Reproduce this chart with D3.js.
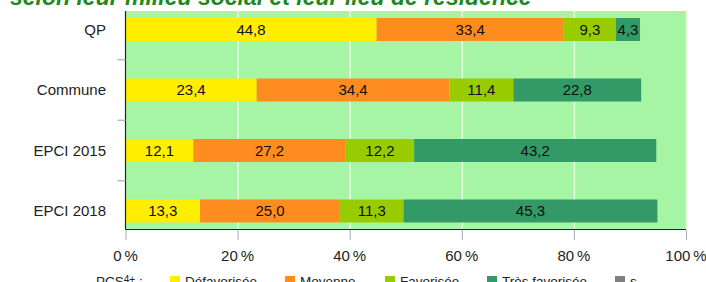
<!DOCTYPE html>
<html><head><meta charset="utf-8">
<script src="https://cdn.jsdelivr.net/npm/d3@7"></script>
<style>
body{margin:0;background:#fff;}
text{font-family:"Liberation Sans",Arial,sans-serif;}
</style></head>
<body>
<svg id="c" width="706" height="282"></svg>
<script>
const categories = ["QP", "Commune", "EPCI 2015", "EPCI 2018"];
const seriesNames = ["Défavorisée", "Moyenne", "Favorisée", "Très favorisée", "s"];
const defavorisee = [44.8, 23.4, 12.1, 13.3];
const moyenne = [33.4, 34.4, 27.2, 25.0];
const favorisee = [9.3, 11.4, 12.2, 11.3];
const tresFavorisee = [4.3, 22.8, 43.2, 45.3];
const secret = [0, 0, 0, 0];
const xTicks = [0, 20, 40, 60, 80, 100];
const colors = ["#ffee00", "#ff8c1e", "#99cc00", "#339966", "#808080"];
const title = "selon leur milieu social et leur lieu de résidence";

const series = [defavorisee, moyenne, favorisee, tresFavorisee, secret];
const svg = d3.select("#c");
const x = d3.scaleLinear().domain([0, 100]).range([125.5, 686]);
const y = d3.scaleBand().domain(categories).range([-0.75, 241.25]);
const barH = 23;
const plotTop = 11, plotBottom = 229;

// title (cut off at top)
svg.append("text").attr("x", 10).attr("y", 5)
  .attr("font-size", 23).attr("font-weight", "bold").attr("font-style", "italic")
  .attr("fill", "#1e8a1e").text(title);

// background
svg.append("rect").attr("x", x(0)).attr("y", plotTop)
  .attr("width", x(100) - x(0)).attr("height", plotBottom - plotTop)
  .attr("fill", "#a6f5a4");

// grid lines
svg.append("g").selectAll("line").data(xTicks.slice(1)).join("line")
  .attr("x1", d => x(d) + 0.5).attr("x2", d => x(d) + 0.5)
  .attr("y1", plotTop).attr("y2", plotBottom)
  .attr("stroke", "#e4fbe3").attr("stroke-width", 1.5);

// stacked bars
const stacked = categories.map((c, i) => {
  let acc = 0;
  return series.map((s, j) => {
    const v = s[i];
    const seg = {cat: c, v, x0: acc, x1: acc + v, j};
    acc += v;
    return seg;
  });
}).flat().filter(d => d.v > 0);

const g = svg.append("g");
g.selectAll("rect").data(stacked).join("rect")
  .attr("x", d => x(d.x0)).attr("width", d => x(d.x1) - x(d.x0))
  .attr("y", d => y(d.cat) + y.bandwidth() / 2 - barH / 2).attr("height", barH)
  .attr("fill", d => colors[d.j]);

g.selectAll("text").data(stacked).join("text")
  .attr("x", d => (x(d.x0) + x(d.x1)) / 2)
  .attr("y", d => y(d.cat) + y.bandwidth() / 2)
  .attr("dy", "0.36em").attr("text-anchor", "middle")
  .attr("font-size", 15).attr("fill", "#111")
  .text(d => d3.format(".1f")(d.v).replace(".", ","));

// axes lines
svg.append("line").attr("x1", x(0)).attr("x2", x(0)).attr("y1", plotTop).attr("y2", plotBottom + 0.5)
  .attr("stroke", "#222").attr("stroke-width", 1.2);
svg.append("line").attr("x1", x(0)).attr("x2", x(100)).attr("y1", plotBottom + 0.5).attr("y2", plotBottom + 0.5)
  .attr("stroke", "#222").attr("stroke-width", 1.2);

// x ticks
svg.append("g").selectAll("line").data(xTicks).join("line")
  .attr("x1", d => x(d) + 0.5).attr("x2", d => x(d) + 0.5)
  .attr("y1", plotBottom + 1).attr("y2", plotBottom + 11)
  .attr("stroke", "#aaa").attr("stroke-width", 1);
svg.append("g").selectAll("text").data(xTicks).join("text")
  .attr("x", d => x(d)).attr("y", 261).attr("text-anchor", "middle")
  .attr("font-size", 15).attr("fill", "#222")
  .text(d => d + "\u202F%");

// y category ticks (between bands)
const bounds = categories.slice(1).map(c => y(c));
svg.append("g").selectAll("line").data(bounds).join("line")
  .attr("x1", x(0) - 8).attr("x2", x(0)).attr("y1", d => d).attr("y2", d => d)
  .attr("stroke", "#aaa").attr("stroke-width", 1.2);
svg.append("g").selectAll("text").data(categories).join("text")
  .attr("x", 106).attr("y", d => y(d) + y.bandwidth() / 2).attr("dy", "0.36em")
  .attr("text-anchor", "end").attr("font-size", 15).attr("fill", "#222")
  .text(d => d);

// legend (cut off at bottom)
const lt = svg.append("text").attr("x", 96).attr("y", 286).attr("font-size", 13.5).attr("fill", "#222");
lt.append("tspan").text("PCS");
lt.append("tspan").attr("font-size", 10).attr("dy", -3).text("4+");
lt.append("tspan").attr("dy", 3).text(" :");
const legX = [170, 285, 385, 487, 615];
const lg = svg.append("g").selectAll("g").data(seriesNames).join("g")
  .attr("transform", (d, i) => `translate(${legX[i]},276)`);
lg.append("rect").attr("width", 10).attr("height", 10).attr("fill", (d, i) => colors[i]);
lg.append("text").attr("x", 15).attr("y", 10).attr("font-size", 13.5).attr("fill", "#222").text(d => d);
</script>
</body></html>
